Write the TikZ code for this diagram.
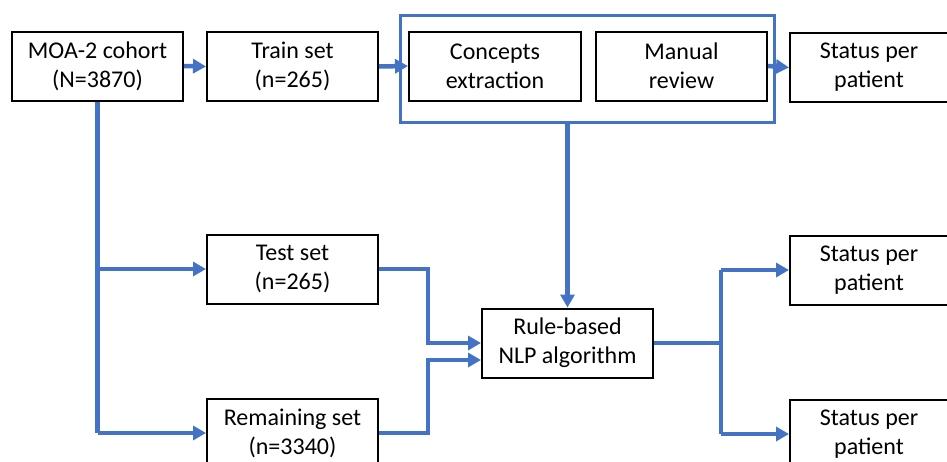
\documentclass[tikz,border=0pt]{standalone}
\usepackage{fontspec}
\setmainfont{Carlito}
\usetikzlibrary{arrows.meta}
\definecolor{lineblue}{HTML}{4472C4}
\begin{document}
\begin{tikzpicture}[x=1pt,y=-1pt,
  box/.style={draw=black,line width=2pt,fill=white,minimum width=171pt,minimum height=69pt,inner sep=0pt,align=center,font=\fontsize{24}{29}\selectfont},
  group/.style={draw=lineblue,line width=3pt,minimum width=374pt,minimum height=107pt,inner sep=0pt},
  link/.style={draw=lineblue,line width=4.5pt},
  conn/.style={link,-{Triangle[length=13pt,width=14pt]}}]
\useasboundingbox (0,0) rectangle (947,461);
\clip (0,0) rectangle (947,461);
\fill[white] (0,0) rectangle (947,461);

\node[group] (grp) at (587,68.5) {};
\node[box] (moa) at (97.5,66) {MOA-2 cohort\\(N=3870)};
\node[box] (train) at (292.5,66.5) {Train set\\(n=265)};
\node[box,minimum width=172pt] (concepts) at (495,66) {Concepts\\extraction};
\node[box] (manual) at (681.5,66) {Manual\\review};
\node[box,minimum width=158pt] (status1) at (869,67.5) {Status per\\patient};
\node[box] (test) at (292.5,269) {Test set\\(n=265)};
\node[box] (rule) at (567.5,343) {Rule-based\\NLP algorithm};
\node[box] (rem) at (292.5,433) {Remaining set\\(n=3340)};
\node[box,minimum width=158pt] (status2) at (869,270) {Status per\\patient};
\node[box,minimum width=158pt] (status3) at (869,434) {Status per\\patient};

\coordinate (mx) at (428,0);
\coordinate (sx) at (721,0);
\coordinate (rin) at ([yshift=-17pt]rule.west);

\draw[conn] (moa.east) -- (train.west);
\draw[conn] (train.east) -- (concepts.west);
\draw[conn] (manual.east) -- (status1.west);
\draw[conn] (rule.north |- grp.south) -- (rule.north);

\draw[link] (moa.south) -- (moa.south |- rem.west);
\draw[conn] (moa.south |- test.west) -- (test.west);
\draw[conn] (moa.south |- rem.west) -- (rem.west);

\draw[conn] (test.east) -| (mx |- rule.west) -- (rule.west);
\draw[conn] (rem.east) -| (mx |- rin) -- (rin);

\draw[link] (rule.east) -- (sx |- rule.east);
\draw[link] (sx |- status2.west) -- (sx |- status3.west);
\draw[conn] (sx |- status2.west) -- (status2.west);
\draw[conn] (sx |- status3.west) -- (status3.west);
\end{tikzpicture}
\end{document}
